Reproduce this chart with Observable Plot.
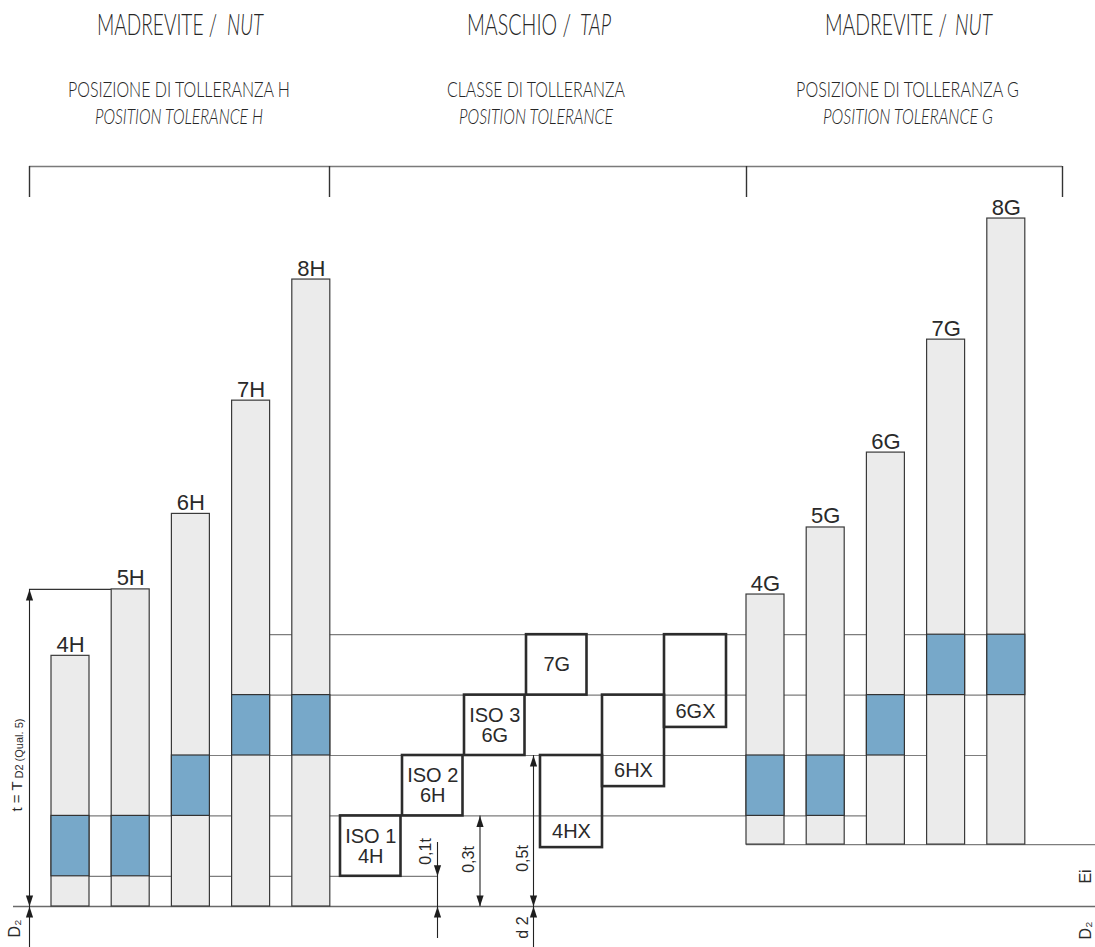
<!DOCTYPE html>
<html><head><meta charset="utf-8">
<script src="https://cdn.jsdelivr.net/npm/d3@7"></script>
<script src="https://cdn.jsdelivr.net/npm/@observablehq/plot@0.6"></script>
<style>
html,body{margin:0;padding:0;background:#fff;}
#chart{width:1095px;}
svg{display:block;}
</style></head><body><div id="chart"></div>
<script>
// ---------------- DATA (heights in units of t = T_D2 (Qual. 5), 0 = D2 line) ----------------
const levels = [0.1, 0.3, 0.5, 0.7, 0.9];

const hClasses  = ["4H", "5H", "6H", "7H", "8H"];
const hTops     = [0.83, 1.05, 1.30, 1.675, 2.076];
const hBandLow  = [0.1, 0.1, 0.3, 0.5, 0.5];
const hBandHigh = [0.3, 0.3, 0.5, 0.7, 0.7];

const gClasses  = ["4G", "5G", "6G", "7G", "8G"];
const gEi       = 0.205;
const gTops     = [1.033, 1.255, 1.503, 1.877, 2.278];
const gBandLow  = [0.3, 0.3, 0.5, 0.7, 0.7];
const gBandHigh = [0.5, 0.5, 0.7, 0.9, 0.9];

const isoLabels = ["ISO 1\n4H", "ISO 2\n6H", "ISO 3\n6G", "7G"];
const isoLow    = [0.1, 0.3, 0.5, 0.7];
const isoHigh   = [0.3, 0.5, 0.7, 0.9];

const xTapLabels = ["4HX", "6HX", "6GX"];
const xTapLow    = [0.195, 0.397, 0.593];
const xTapHigh   = [0.5, 0.7, 0.9];

const dimLabels = ["0,1t", "0,3t", "0,5t"];
const dimValues = [0.1, 0.3, 0.5];

const headerTitleA = ["MADREVITE /", "MASCHIO /", "MADREVITE /"];
const headerTitleB = ["NUT", "TAP", "NUT"];
const headerSubIt  = ["POSIZIONE DI TOLLERANZA H", "CLASSE DI TOLLERANZA", "POSIZIONE DI TOLLERANZA G"];
const headerSubEn  = ["POSITION TOLERANCE H", "POSITION TOLERANCE", "POSITION TOLERANCE G"];

// ---------------- LAYOUT (pixels) ----------------
const W = 1095, HEADER_H = 150, SVG_H = 797;
const BASE = 906, PX_T = 302;                 // page y of D2 line, pixels per t
const py = p => (BASE - p) / PX_T;            // page y -> t units
const LX = {
  hX0: 51, gX0: 746, barStep: 60.2, barW: 38,
  isoX0: 340, isoStep: 62, isoW: 60.5,
  xX0: 540, xStep: 62, xW: 62,
  dimX: [437, 479.5, 533], leftDimX: 29,
  brackY: 166, brackTickY: 197, brackX: [29, 329, 746, 1062],
  hdrAX: [97, 467, 825], hdrAW: [120, 104, 122],
  hdrBX: [227, 580, 955], hdrBW: [36, 31, 37],
  hdrSubX: [179, 536, 907.5], hdrSubW: [222, 178, 223],
  hdrEnX: [179, 536, 908], hdrEnW: [168, 154, 170]
};
const CAP = 0.7165; // Lato cap height / em

// ---------------- HEADER ----------------
const chart = document.getElementById("chart");
const hdr = d3.create("svg").attr("width", W).attr("height", HEADER_H)
  .style("font-family", "Lato, Roboto, 'Open Sans', sans-serif").style("font-weight", 300).attr("fill", "#262626");
chart.appendChild(hdr.node());

function fitText(text, x, y, targetW, capH, anchor, italic) {
  const t = hdr.append("text").attr("x", 0).attr("y", 0).attr("font-size", 20)
    .attr("text-anchor", anchor).text(text);
  if (italic) t.attr("font-style", "italic");
  const w0 = t.node().getComputedTextLength();
  const fs = 20 * targetW / w0;
  const sy = capH / (fs * CAP);
  t.attr("font-size", fs.toFixed(2)).attr("transform", `translate(${x},${y}) scale(1,${sy.toFixed(3)})`);
}
headerTitleA.forEach((t, i) => {
  fitText(t, LX.hdrAX[i], 35, LX.hdrAW[i], 20.5, "start", false);
  fitText(headerTitleB[i], LX.hdrBX[i], 35, LX.hdrBW[i], 20.5, "start", true);
});
headerSubIt.forEach((t, i) => fitText(t, LX.hdrSubX[i], 97, LX.hdrSubW[i], 15.5, "middle", false));
headerSubEn.forEach((t, i) => fitText(t, LX.hdrEnX[i], 124, LX.hdrEnW[i], 15.5, "middle", true));

// ---------------- BUILD ROWS ----------------
const hBars = hClasses.map((name, i) => ({
  name, x1: LX.hX0 + i * LX.barStep, x2: LX.hX0 + i * LX.barStep + LX.barW,
  bottom: 0, top: hTops[i], low: hBandLow[i], high: hBandHigh[i]
}));
const gBars = gClasses.map((name, i) => ({
  name, x1: LX.gX0 + i * LX.barStep, x2: LX.gX0 + i * LX.barStep + LX.barW,
  bottom: gEi, top: gTops[i], low: gBandLow[i], high: gBandHigh[i]
}));
const bars = [...hBars, ...gBars];
const isoBoxes = isoLabels.map((label, i) => ({
  label, x1: LX.isoX0 + i * LX.isoStep, x2: LX.isoX0 + i * LX.isoStep + LX.isoW, y1: isoLow[i], y2: isoHigh[i]
}));
const xBoxes = xTapLabels.map((label, i) => ({
  label, x1: LX.xX0 + i * LX.xStep, x2: LX.xX0 + i * LX.xStep + LX.xW, y1: xTapLow[i], y2: xTapHigh[i],
  ty: (xTapLow[i] + (xTapHigh[i] - 0.2)) / 2
}));

const gridLines = [
  {y: levels[0], x1: LX.hX0, x2: LX.dimX[0]},
  {y: levels[1], x1: LX.hX0, x2: LX.gX0 + 2 * LX.barStep},
  {y: levels[2], x1: LX.hX0 + 2 * LX.barStep, x2: LX.gX0 + 4 * LX.barStep},
  {y: levels[3], x1: LX.hX0 + 3 * LX.barStep, x2: LX.gX0 + 4 * LX.barStep + LX.barW},
  {y: levels[4], x1: LX.hX0 + 3 * LX.barStep, x2: LX.gX0 + 4 * LX.barStep + LX.barW},
  {y: gEi, x1: LX.gX0, x2: W}
];

// arrowhead symbols (tip at the point)
const headUp = {draw(c) { c.moveTo(0, 0); c.lineTo(-3.6, 11); c.lineTo(3.6, 11); c.closePath(); }};
const headDown = {draw(c) { c.moveTo(0, 0); c.lineTo(-3.6, -11); c.lineTo(3.6, -11); c.closePath(); }};

const dimRules = [
  {x: LX.leftDimX, y1: 0, y2: hTops[1]},
  {x: LX.leftDimX, y1: py(947), y2: 0},
  {x: LX.dimX[0], y1: py(938), y2: py(842)},
  {x: LX.dimX[1], y1: 0, y2: dimValues[1]},
  {x: LX.dimX[2], y1: py(947), y2: dimValues[2]}
];
const upHeads = [
  {x: LX.leftDimX, y: hTops[1]}, {x: LX.leftDimX, y: 0},
  {x: LX.dimX[0], y: 0}, {x: LX.dimX[1], y: dimValues[1]},
  {x: LX.dimX[2], y: dimValues[2]}, {x: LX.dimX[2], y: 0}
];
const downHeads = [
  {x: LX.leftDimX, y: 0}, {x: LX.dimX[0], y: dimValues[0]},
  {x: LX.dimX[1], y: 0}, {x: LX.dimX[2], y: 0}
];
const rotLabels = [
  {x: 425.5, y: py(851), text: dimLabels[0]},
  {x: 468.5, y: py(859), text: dimLabels[1]},
  {x: 522, y: py(858), text: dimLabels[2]},
  {x: 522, y: py(927), text: "d 2"},
  {x: 14.5, y: py(928), text: "D₂"},
  {x: 1085.5, y: py(876), text: "Ei"},
  {x: 1085.5, y: py(930), text: "D₂"}
];

const FONT = "'Liberation Sans', Arial, Helvetica, sans-serif";
const INK = "#2a2a2a";

const plot = Plot.plot({
  width: W, height: SVG_H, margin: 0,
  style: {fontFamily: FONT, background: "transparent"},
  x: {domain: [0, W], range: [0, W], axis: null},
  y: {domain: [py(HEADER_H + SVG_H), py(HEADER_H)], range: [SVG_H, 0], axis: null},
  marks: [
    // header bracket
    Plot.ruleY([py(LX.brackY)], {x1: LX.brackX[0], x2: LX.brackX[3], stroke: "#7a7a7a", strokeWidth: 1.4}),
    Plot.ruleX(LX.brackX, {y1: py(LX.brackY), y2: py(LX.brackTickY), stroke: "#333", strokeWidth: 1.4}),
    // grid lines
    Plot.ruleY(gridLines, {y: "y", x1: "x1", x2: "x2", stroke: "#7d7d7d", strokeWidth: 1.2}),
    Plot.ruleY([0], {x1: 13, x2: W, stroke: "#6a6a6a", strokeWidth: 1.3}),
    Plot.ruleY([hTops[1]], {x1: LX.leftDimX, x2: LX.hX0 + LX.barStep, stroke: "#333", strokeWidth: 1.1}),
    // tolerance bars
    Plot.rect(bars, {x1: "x1", x2: "x2", y1: "bottom", y2: "top", fill: "#ebebeb", stroke: "#3a3a3a", strokeWidth: 1.2}),
    Plot.rect(bars, {x1: "x1", x2: "x2", y1: "low", y2: "high", fill: "#77a8c9", stroke: "#333", strokeWidth: 1.2}),
    Plot.text(bars, {x: d => (d.x1 + d.x2) / 2, y: "top", text: "name", lineAnchor: "bottom", dy: -4, fontSize: 22, fill: INK}),
    // tap boxes
    Plot.rect(isoBoxes, {x1: "x1", x2: "x2", y1: "y1", y2: "y2", fill: "none", stroke: "#2c2c2c", strokeWidth: 2.6}),
    Plot.rect(xBoxes, {x1: "x1", x2: "x2", y1: "y1", y2: "y2", fill: "none", stroke: "#2c2c2c", strokeWidth: 2.6}),
    Plot.text(isoBoxes, {x: d => (d.x1 + d.x2) / 2, y: d => (d.y1 + d.y2) / 2, text: "label", lineAnchor: "middle", lineHeight: 1.0, fontSize: 20, letterSpacing: "-0.7px", fill: INK}),
    Plot.text(xBoxes, {x: d => (d.x1 + d.x2) / 2, y: "ty", text: "label", lineAnchor: "middle", fontSize: 20, fill: INK}),
    // dimension lines
    Plot.ruleX(dimRules, {x: "x", y1: "y1", y2: "y2", stroke: "#222", strokeWidth: 1.1}),
    Plot.dot(upHeads, {x: "x", y: "y", symbol: headUp, fill: "#1e1e1e", stroke: null}),
    Plot.dot(downHeads, {x: "x", y: "y", symbol: headDown, fill: "#1e1e1e", stroke: null}),
    Plot.text(rotLabels, {x: "x", y: "y", text: "text", rotate: -90, fontSize: 16, fill: INK}),
    Plot.text(["t = T"], {x: 16.5, y: py(811), rotate: -90, textAnchor: "start", fontSize: 15, fill: INK}),
    Plot.text(["D2 (Qual. 5)"], {x: 19, y: py(778), rotate: -90, textAnchor: "start", fontSize: 11, fill: INK})
  ]
});
chart.appendChild(plot);
</script></body></html>
